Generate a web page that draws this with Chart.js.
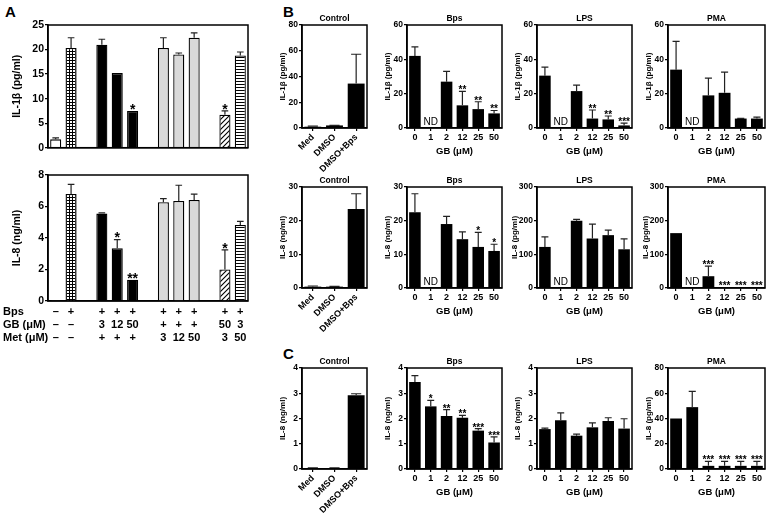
<!DOCTYPE html>
<html>
<head>
<meta charset="utf-8">
<script src="https://cdn.jsdelivr.net/npm/chart.js@4"></script>
<style>
  body { margin: 0; background: #fff; }
  #fig { position: relative; width: 767px; height: 515px; overflow: hidden; font-family: "Liberation Sans", Arial, sans-serif; }
  #fig canvas { position: absolute; }
  .lab { position: absolute; font-weight: bold; font-size: 15px; line-height: 15px; }
</style>
</head>
<body>
<div id="fig">
  <div class="lab" style="left:5px;top:4px">A</div>
  <div class="lab" style="left:283px;top:4px">B</div>
  <div class="lab" style="left:283px;top:346px">C</div>
</div>
<script>
// ---- panel A : 13 slots, empty slots separate the groups
const aRowNames = ["Bps", "GB (\u03bcM)", "Met (\u03bcM)"];
const aBps = ["\u2013", "+", "", "+", "+", "+", "", "+", "+", "+", "", "+", "+"];
const aGB  = ["\u2013", "\u2013", "", "3", "12", "50", "", "+", "+", "+", "", "50", "3"];
const aMet = ["\u2013", "\u2013", "", "+", "+", "+", "", "3", "12", "50", "", "3", "50"];
const aIL1b     = [1.7, 20.3, null, 21.0, 15.2, 7.5, null, 20.3, 19.0, 22.4, null, 6.7, 18.8];
const aIL1bErr  = [2.0, 22.4, null, 22.1, null, null, null, 22.4, 19.3, 23.4, null, 7.5, 19.5];
const aIL1bStar = ["", "", "", "", "", "*", "", "", "", "", "", "*", ""];
const aIL8      = [0.07, 6.8, null, 5.55, 3.35, 1.35, null, 6.27, 6.35, 6.42, null, 2.0, 4.83];
const aIL8Err   = [null, 7.4, null, 5.6, 3.9, null, null, 6.5, 7.35, 6.78, null, 3.24, 5.06];
const aIL8Star  = ["", "", "", "", "*", "**", "", "", "", "", "", "*", ""];

// ---- panels B and C
const ctrlLabels = ["Med", "DMSO", "DMSO+Bps"];
const gbLabels = ["0", "1", "2", "12", "25", "50"];

// B, IL-1beta
const b1Ctrl = [1, 2, 34.5],   b1CtrlErr = [1.5, 2.1, 57.3];
const b1Bps  = [42, null, 27, 13.2, 11, 8.5],  b1BpsErr = [47.2, null, 33, 21.3, 15.3, 10.2];
const b1BpsStar = ["", "", "", "**", "**", "**"];
const b1Lps  = [30.5, null, 21.5, 5.5, 5, 1.5], b1LpsErr = [35.5, null, 25, 10.5, 7, 2.8];
const b1LpsStar = ["", "", "", "**", "**", "***"];
const b1Pma  = [34, null, 19, 20.5, 5.5, 5.5],  b1PmaErr = [50.5, null, 29, 32.5, 5.6, 6.3];

// B, IL-8
const b2Ctrl = [0.4, 0.4, 23.5], b2CtrlErr = [0.6, 0.5, 28];
const b2Bps  = [22.5, null, 19, 14.5, 12.2, 11], b2BpsErr = [28, null, 21.3, 16.7, 16.5, 13];
const b2BpsStar = ["", "", "", "", "*", "*"];
const b2Lps  = [122, null, 200, 147, 157, 115], b2LpsErr = [152, null, 204, 190, 172, 146];
const b2Pma  = [163, null, 35, 2, 2, 2], b2PmaErr = [null, null, 65, null, null, null];
const b2PmaStar = ["", "", "***", "***", "***", "***"];

// C, IL-8
const cCtrl = [0.04, 0.04, 2.92], cCtrlErr = [0.05, 0.05, 2.98];
const cBps  = [3.45, 2.48, 2.1, 2.03, 1.52, 1.05], cBpsErr = [3.7, 2.72, 2.35, 2.12, 1.6, 1.27];
const cBpsStar = ["", "*", "**", "**", "***", "***"];
const cLps  = [1.58, 1.93, 1.32, 1.65, 1.9, 1.6], cLpsErr = [1.62, 2.22, 1.38, 1.83, 2.03, 1.99];
const cPma  = [40, 49, 2.5, 2.5, 2.5, 2.5], cPmaErr = [null, 61.5, 6, 6, 6, 6];
const cPmaStar = ["", "", "***", "***", "***", "***"];

const FONT = '"Liberation Sans", Arial, sans-serif';
const fig = document.getElementById("fig");

// fill patterns for panel A
function tile(w, h, draw) {
  const c = document.createElement("canvas");
  c.width = w; c.height = h;
  const g = c.getContext("2d");
  g.fillStyle = "#fff"; g.fillRect(0, 0, w, h);
  g.fillStyle = "#000"; g.strokeStyle = "#000";
  draw(g);
  return g.createPattern(c, "repeat");
}
const fills = {
  white: "#ffffff",
  black: "#000000",
  grey: "#d9d9d9",
  grid: tile(3, 3, g => { g.fillRect(0, 0, 3, 1); g.fillRect(0, 0, 1, 3); }),
  hatch: tile(5, 5, g => {
    g.lineWidth = 1.1; g.beginPath();
    g.moveTo(0, 5); g.lineTo(5, 0); g.moveTo(-1, 1); g.lineTo(1, -1); g.moveTo(4, 6); g.lineTo(6, 4);
    g.stroke();
  }),
  stripe: tile(1, 3, g => { g.fillRect(0, 0, 1, 1); })
};
const aStyle = ["white", "grid", null, "black", "black", "black", null, "grey", "grey", "grey", null, "hatch", "stripe"];

// error bars, stars, ND
const errPlugin = {
  id: "err",
  afterDatasetsDraw(chart) {
    const ctx = chart.ctx, ds = chart.data.datasets[0], y = chart.scales.y, x = chart.scales.x;
    const meta = chart.getDatasetMeta(0);
    ctx.save();
    meta.data.forEach((bar, i) => {
      const v = ds.data[i];
      if (v == null) return;
      const yTop = y.getPixelForValue(v);
      let yS = yTop;
      const e = ds.errs ? ds.errs[i] : null;
      if (e != null && e > v) {
        const ye = y.getPixelForValue(e), cw = bar.width * 0.3;
        ctx.strokeStyle = "#222"; ctx.lineWidth = 1.2;
        ctx.beginPath();
        ctx.moveTo(bar.x, yTop); ctx.lineTo(bar.x, ye);
        ctx.moveTo(bar.x - cw, ye); ctx.lineTo(bar.x + cw, ye);
        ctx.stroke();
        yS = ye;
      }
      if (ds.stars && ds.stars[i]) {
        ctx.fillStyle = "#000"; ctx.textAlign = "center"; ctx.textBaseline = "alphabetic";
        ctx.font = "bold " + ds.starSize + "px " + FONT;
        ctx.fillText(ds.stars[i], bar.x, yS + ds.starSize * 0.2);
      }
    });
    if (ds.nd != null) {
      ctx.fillStyle = "#000"; ctx.textAlign = "center"; ctx.textBaseline = "bottom";
      ctx.font = "10px " + FONT;
      ctx.fillText("ND", x.getPixelForValue(ds.nd), y.getPixelForValue(0) - 1);
    }
    ctx.restore();
  }
};

function plot(o) {
  const [l, t, r, b] = o.box;
  const padL = o.padL, padT = o.padT, padB = o.padB, padR = 3;
  const w = r - l + padL + padR, h = b - t + padT + padB;
  const cv = document.createElement("canvas");
  cv.width = w; cv.height = h;
  cv.style.left = (l - padL) + "px"; cv.style.top = (t - padT) + "px";
  cv.style.width = w + "px"; cv.style.height = h + "px";
  fig.appendChild(cv);
  const fy = { size: o.fy, weight: "bold", family: FONT };
  const fx = { size: o.fx, weight: "bold", family: FONT };
  const fyt = { size: o.fyt, weight: "bold", family: FONT };
  const fxt = { size: o.fxt || 9, weight: "bold", family: FONT };
  const frame = {
    id: "frame",
    afterDraw(chart) {
      const a = chart.chartArea, ctx = chart.ctx;
      ctx.save();
      ctx.strokeStyle = "#000"; ctx.lineWidth = 1.5;
      ctx.strokeRect(a.left, a.top, a.right - a.left, a.bottom - a.top);
      if (o.title) {
        ctx.fillStyle = "#000"; ctx.textAlign = "center"; ctx.textBaseline = "bottom";
        ctx.font = "bold 8.5px " + FONT;
        ctx.fillText(o.title, (a.left + a.right) / 2, a.top - 2);
      }
      ctx.restore();
      if (o.after) o.after(chart, l - padL, t - padT);
    }
  };
  const showX = o.xTicks !== false;
  return new Chart(cv, {
    type: "bar",
    data: {
      labels: o.labels,
      datasets: [{
        data: o.values, errs: o.errs, stars: o.stars, nd: o.nd, starSize: o.starSize || 10,
        backgroundColor: o.fill || "#000", borderColor: "#000", borderWidth: o.bw || 0,
        barPercentage: o.barPct, categoryPercentage: 1
      }]
    },
    options: {
      responsive: false, animation: false, devicePixelRatio: 1,
      layout: { padding: { top: padT, right: padR, bottom: 0, left: 0 } },
      plugins: { legend: { display: false }, tooltip: { enabled: false } },
      scales: {
        x: {
          grid: { display: showX, drawOnChartArea: false, offset: false, tickLength: 3, color: "#000", lineWidth: 1.2 },
          border: { display: true, color: "#000", width: 1.5 },
          ticks: { display: showX, font: fx, color: "#000", padding: 1, autoSkip: false,
                   minRotation: o.rot || 0, maxRotation: o.rot || 0 },
          title: { display: !!o.xTitle, text: o.xTitle, font: fxt, color: "#000", padding: 0 },
          afterFit: s => { s.height = padB; }
        },
        y: {
          min: 0, max: o.max,
          grid: { drawOnChartArea: false, tickLength: 3, color: "#000", lineWidth: 1.2 },
          border: { color: "#000", width: 1.5 },
          ticks: { stepSize: o.step, font: fy, color: "#000", padding: 1 },
          title: { display: true, text: o.yTitle, font: fyt, color: "#000", padding: { top: o.ytPad, bottom: 0 } },
          afterFit: s => { s.width = padL; }
        }
      }
    },
    plugins: [frame, errPlugin]
  });
}

// ---- panel A
const aIdx = aBps.map((_, i) => i);
const aFill = aStyle.map(s => s ? fills[s] : "#fff");
plot({ box: [48, 25, 248, 152], padL: 48, padT: 10, padB: 3, fy: 10.5, fx: 10.5, fyt: 10.5, ytPad: 11,
  labels: aIdx, values: aIL1b, errs: aIL1bErr, stars: aIL1bStar, starSize: 14,
  fill: aFill, bw: 1.3, barPct: 0.72, max: 25, step: 5, yTitle: "IL-1\u03b2 (pg/ml)", xTicks: false });

const aRows = [aBps, aGB, aMet];
const aRowY = [312, 325, 338];
plot({ box: [48, 175, 248, 301], padL: 48, padT: 8, padB: 46, fy: 10.5, fx: 10.5, fyt: 10.5, ytPad: 11,
  labels: aIdx, values: aIL8, errs: aIL8Err, stars: aIL8Star, starSize: 14,
  fill: aFill, bw: 1.3, barPct: 0.72, max: 8, step: 2, yTitle: "IL-8 (ng/ml)", xTicks: false,
  after(chart, cx, cy) {
    const ctx = chart.ctx, xs = chart.scales.x;
    ctx.save();
    ctx.fillStyle = "#000"; ctx.textBaseline = "middle";
    ctx.font = "bold 11px " + FONT;
    aRows.forEach((row, ri) => {
      const y = aRowY[ri] - cy;
      ctx.textAlign = "left";
      ctx.fillText(aRowNames[ri], 3 - cx, y);
      ctx.textAlign = "center";
      row.forEach((txt, i) => { if (txt) ctx.fillText(txt, xs.getPixelForValue(i), y); });
    });
    ctx.restore();
  } });

// ---- panels B and C
const cols = [[302, 367], [407, 502], [537, 632], [668, 765]];
const rows = [[25, 128], [187, 288], [368, 469]];
const GB = "GB (\u03bcM)";
function sub(ci, ri, o) {
  const isCtrl = ci === 0;
  const wide = o.max >= 100;
  plot(Object.assign({
    box: [cols[ci][0], rows[ri][0], cols[ci][1], rows[ri][1]],
    padL: wide ? 33 : 30, padT: 14, padB: isCtrl ? 46 : 29,
    fy: 8.5, fx: 9, fyt: 8, fxt: 9.5, ytPad: 6,
    labels: isCtrl ? ctrlLabels : gbLabels, rot: isCtrl ? 45 : 0,
    xTitle: isCtrl ? "" : GB, barPct: isCtrl ? 0.78 : 0.73, starSize: 10
  }, o));
}
sub(0, 0, { title: "Control", values: b1Ctrl, errs: b1CtrlErr, max: 80, step: 20, yTitle: "IL-1\u03b2 (pg/ml)" });
sub(1, 0, { title: "Bps", values: b1Bps, errs: b1BpsErr, stars: b1BpsStar, nd: 1, max: 60, step: 20, yTitle: "IL-1\u03b2 (pg/ml)" });
sub(2, 0, { title: "LPS", values: b1Lps, errs: b1LpsErr, stars: b1LpsStar, nd: 1, max: 60, step: 20, yTitle: "IL-1\u03b2 (pg/ml)" });
sub(3, 0, { title: "PMA", values: b1Pma, errs: b1PmaErr, nd: 1, max: 60, step: 20, yTitle: "IL-1\u03b2 (pg/ml)" });

sub(0, 1, { title: "Control", values: b2Ctrl, errs: b2CtrlErr, max: 30, step: 10, yTitle: "IL-8 (ng/ml)" });
sub(1, 1, { title: "Bps", values: b2Bps, errs: b2BpsErr, stars: b2BpsStar, nd: 1, max: 30, step: 10, yTitle: "IL-8 (ng/ml)" });
sub(2, 1, { title: "LPS", values: b2Lps, errs: b2LpsErr, nd: 1, max: 300, step: 100, yTitle: "IL-8 (pg/ml)" });
sub(3, 1, { title: "PMA", values: b2Pma, errs: b2PmaErr, stars: b2PmaStar, nd: 1, max: 300, step: 100, yTitle: "IL-8 (pg/ml)" });

sub(0, 2, { title: "Control", values: cCtrl, errs: cCtrlErr, max: 4, step: 1, yTitle: "IL-8 (ng/ml)" });
sub(1, 2, { title: "Bps", values: cBps, errs: cBpsErr, stars: cBpsStar, max: 4, step: 1, yTitle: "IL-8 (ng/ml)" });
sub(2, 2, { title: "LPS", values: cLps, errs: cLpsErr, max: 4, step: 1, yTitle: "IL-8 (ng/ml)" });
sub(3, 2, { title: "PMA", values: cPma, errs: cPmaErr, stars: cPmaStar, max: 80, step: 20, yTitle: "IL-8 (pg/ml)" });
</script>
</body>
</html>
